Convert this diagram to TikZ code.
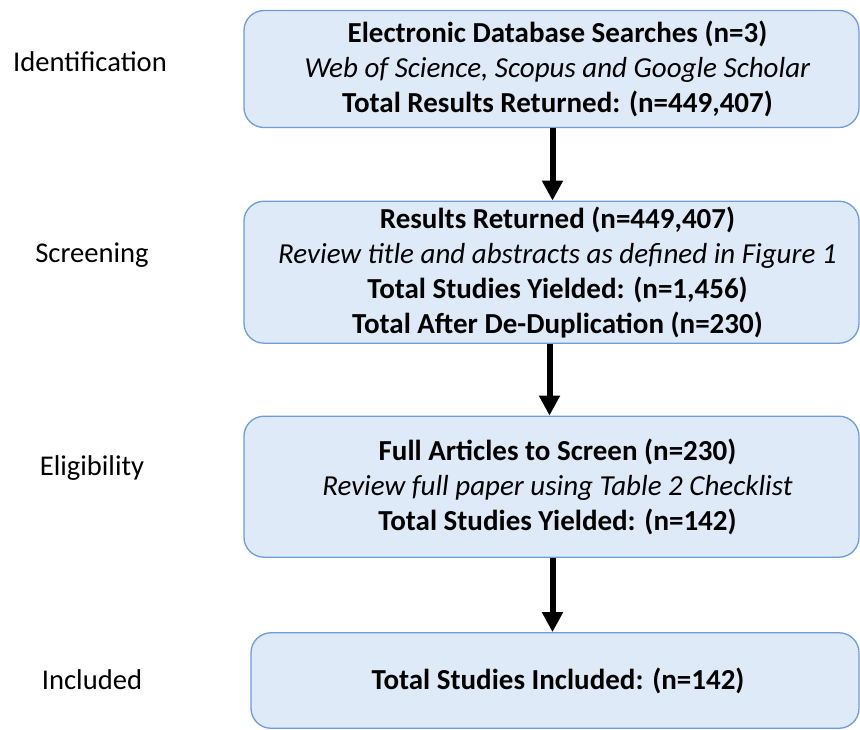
\documentclass[tikz,border=0pt]{standalone}
\usepackage{fontspec}
\setmainfont{Carlito}
\usetikzlibrary{arrows.meta}
\definecolor{boxfill}{RGB}{222,234,247}
\definecolor{boxline}{RGB}{112,156,220}
\newcommand{\lsh}{\hspace*{12pt}}
\tikzset{
  x=1pt, y=-1pt,
  flowbox/.style={draw=boxline, fill=boxfill, line width=1.3pt, rounded corners=20pt,
    align=center, inner sep=0pt, font=\fontsize{29}{35}\selectfont},
  stagelabel/.style={font=\fontsize{28.6}{35}\selectfont, inner sep=0pt},
  flowarrow/.style={line width=6pt, -{Triangle[width=20pt,length=20pt]}}
}
\begin{document}
\begin{tikzpicture}
\useasboundingbox (0,0) rectangle (860,729);
\node[flowbox, minimum width=615pt, minimum height=117pt] (b1) at (551.5,69)
  {\lsh\textbf{Electronic Database Searches (n=3)}\\ \lsh\textit{Web of Science, Scopus and Google Scholar}\\ \lsh\textbf{Total Results Returned: (n=449,407)}};
\node[flowbox, minimum width=615pt, minimum height=142pt] (b2) at (551.5,272.2)
  {\lsh\textbf{Results Returned (n=449,407)}\\ \lsh\textit{Review title and abstracts as defined in Figure 1}\\ \lsh\textbf{Total Studies Yielded: (n=1,456)}\\ \lsh\textbf{Total After De-Duplication (n=230)}};
\node[flowbox, minimum width=615pt, minimum height=141pt] (b3) at (551.5,486.7)
  {\lsh\textbf{Full Articles to Screen (n=230)}\\ \lsh\textit{Review full paper using Table 2 Checklist}\\ \lsh\textbf{Total Studies Yielded: (n=142)}};
\node[flowbox, minimum width=608pt, minimum height=95.5pt] (b4) at (555,680.5)
  {\hspace*{6pt}\textbf{Total Studies Included: (n=142)}};
\node[stagelabel] (l1) at (90,62) {Identification};
\node[stagelabel] (l2) at (92,255) {Screening};
\node[stagelabel] (l3) at (92,468) {Eligibility};
\node[stagelabel] (l4) at (92,680) {Included};
\draw[flowarrow] ([xshift=1pt]b1.south) -- ([xshift=1pt]b2.north);
\draw[flowarrow] ([xshift=-2pt]b2.south) -- ([xshift=-2pt]b3.north);
\draw[flowarrow] ([xshift=1pt]b3.south) -- ([xshift=1pt]b3.south |- b4.north);
\end{tikzpicture}
\end{document}
